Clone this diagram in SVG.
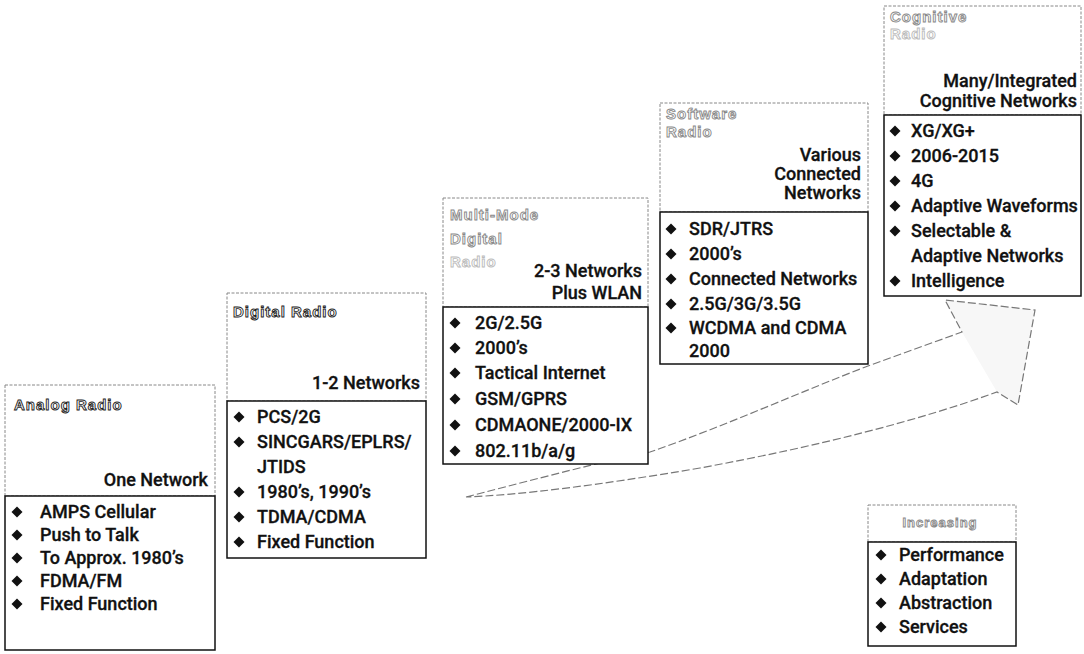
<svg xmlns="http://www.w3.org/2000/svg" xmlns:xlink="http://www.w3.org/1999/xlink" width="1084" height="654" viewBox="0 0 1084 654">
<defs>
  <path id="dia" d="M0,-5.5 L5.5,0 L0,5.5 L-5.5,0Z" fill="#111"/>
  <style>
    .hdr{fill:#fff;stroke:#888;stroke-width:1;stroke-dasharray:3 1.5}
    .body{fill:#fff;stroke:#111;stroke-width:1.5}
    .title{font-family:"Liberation Sans",Arial,sans-serif;font-weight:bold;font-size:15px;fill:#fff;stroke:#222;stroke-width:0.9;letter-spacing:1px}
    .faint{stroke:#888}
    .fainter{stroke:#bbb}
    .net{font-family:Roboto,"Liberation Sans",Arial,sans-serif;font-weight:500;font-size:18px;fill:#111;stroke:#111;stroke-width:0.3;text-anchor:end}
    .item{font-family:Roboto,"Liberation Sans",Arial,sans-serif;font-weight:500;font-size:18px;fill:#111;stroke:#111;stroke-width:0.3}
    .arrow{fill:none;stroke:#777;stroke-width:1.2;stroke-dasharray:8 3}
    .head{fill:#f7f7f7}
  </style>
</defs>
<rect width="1084" height="654" fill="#fff"/>

<g id="connectors">
  <path class="head" d="M962,332 L945,300 L1035,310 L1018,405 L997,392 Z"/>
  <path class="arrow" d="M466,497 C540,478 600,462 650,452 C720,428 800,392 868,366 L962,332 L945,300 L1035,310 L1018,405 L997,392 C920,420 820,446 700,468 C600,485 520,495 466,497"/>
</g>

<g id="analog">
  <rect class="hdr" x="5" y="385" width="210" height="111"/>
  <rect class="body" x="5" y="496" width="210" height="154"/>
  <text class="title" x="14" y="410">Analog Radio</text>
  <text class="net" x="208" y="486">One Network</text>
  <use href="#dia" x="17" y="512"/><text class="item" x="40" y="518">AMPS Cellular</text>
  <use href="#dia" x="17" y="535"/><text class="item" x="40" y="541">Push to Talk</text>
  <use href="#dia" x="17" y="558"/><text class="item" x="40" y="564">To Approx. 1980’s</text>
  <use href="#dia" x="17" y="581"/><text class="item" x="40" y="587">FDMA/FM</text>
  <use href="#dia" x="17" y="604"/><text class="item" x="40" y="610">Fixed Function</text>
</g>

<g id="digital">
  <rect class="hdr" x="227" y="293" width="199" height="108"/>
  <rect class="body" x="227" y="401" width="199" height="157"/>
  <text class="title" x="233" y="317">Digital Radio</text>
  <text class="net" x="420" y="389">1-2 Networks</text>
  <use href="#dia" x="239" y="417"/><text class="item" x="257" y="423">PCS/2G</text>
  <use href="#dia" x="239" y="442"/><text class="item" x="257" y="448">SINCGARS/EPLRS/</text>
  <text class="item" x="257" y="473">JTIDS</text>
  <use href="#dia" x="239" y="492"/><text class="item" x="257" y="498">1980’s, 1990’s</text>
  <use href="#dia" x="239" y="517"/><text class="item" x="257" y="523">TDMA/CDMA</text>
  <use href="#dia" x="239" y="542"/><text class="item" x="257" y="548">Fixed Function</text>
</g>

<g id="multimode">
  <rect class="hdr" x="443" y="198" width="205" height="109"/>
  <rect class="body" x="443" y="307" width="205" height="157"/>
  <text class="title faint" x="450" y="220">Multi-Mode</text>
  <text class="title faint" x="450" y="244">Digital</text>
  <text class="title fainter" x="450" y="267">Radio</text>
  <text class="net" x="642" y="277">2-3 Networks</text>
  <text class="net" x="642" y="299">Plus WLAN</text>
  <use href="#dia" x="455" y="323"/><text class="item" x="475" y="329">2G/2.5G</text>
  <use href="#dia" x="455" y="348"/><text class="item" x="475" y="354">2000’s</text>
  <use href="#dia" x="455" y="373"/><text class="item" x="475" y="379">Tactical Internet</text>
  <use href="#dia" x="455" y="399"/><text class="item" x="475" y="405">GSM/GPRS</text>
  <use href="#dia" x="455" y="425"/><text class="item" x="475" y="431">CDMAONE/2000-IX</text>
  <use href="#dia" x="455" y="451"/><text class="item" x="475" y="457">802.11b/a/g</text>
</g>

<g id="software">
  <rect class="hdr" x="660" y="103" width="208" height="109"/>
  <rect class="body" x="660" y="212" width="208" height="152"/>
  <text class="title faint" x="666" y="119">Software</text>
  <text class="title faint" x="666" y="137">Radio</text>
  <text class="net" x="861" y="161">Various</text>
  <text class="net" x="861" y="180">Connected</text>
  <text class="net" x="861" y="199">Networks</text>
  <use href="#dia" x="671" y="229"/><text class="item" x="689" y="235">SDR/JTRS</text>
  <use href="#dia" x="671" y="254"/><text class="item" x="689" y="260">2000’s</text>
  <use href="#dia" x="671" y="279"/><text class="item" x="689" y="285">Connected Networks</text>
  <use href="#dia" x="671" y="304"/><text class="item" x="689" y="310">2.5G/3G/3.5G</text>
  <use href="#dia" x="671" y="328"/><text class="item" x="689" y="334">WCDMA and CDMA</text>
  <text class="item" x="689" y="357">2000</text>
</g>

<g id="cognitive">
  <rect class="hdr" x="884" y="6" width="197" height="109"/>
  <rect class="body" x="884" y="115" width="197" height="181"/>
  <text class="title faint" x="890" y="22">Cognitive</text>
  <text class="title fainter" x="890" y="39">Radio</text>
  <text class="net" x="1077" y="87">Many/Integrated</text>
  <text class="net" x="1077" y="107">Cognitive Networks</text>
  <use href="#dia" x="895" y="131"/><text class="item" x="911" y="137">XG/XG+</text>
  <use href="#dia" x="895" y="156"/><text class="item" x="911" y="162">2006-2015</text>
  <use href="#dia" x="895" y="181"/><text class="item" x="911" y="187">4G</text>
  <use href="#dia" x="895" y="206"/><text class="item" x="911" y="212">Adaptive Waveforms</text>
  <use href="#dia" x="895" y="231"/><text class="item" x="911" y="237">Selectable &amp;</text>
  <text class="item" x="911" y="262">Adaptive Networks</text>
  <use href="#dia" x="895" y="281"/><text class="item" x="911" y="287">Intelligence</text>
</g>

<g id="legend">
  <rect class="hdr" x="868" y="505" width="148" height="37"/>
  <rect class="body" x="868" y="542" width="148" height="104"/>
  <text class="title faint" x="940" y="527" text-anchor="middle" style="font-size:13px">Increasing</text>
  <use href="#dia" x="881" y="555"/><text class="item" x="899" y="561">Performance</text>
  <use href="#dia" x="881" y="579"/><text class="item" x="899" y="585">Adaptation</text>
  <use href="#dia" x="881" y="603"/><text class="item" x="899" y="609">Abstraction</text>
  <use href="#dia" x="881" y="627"/><text class="item" x="899" y="633">Services</text>
</g>
</svg>
